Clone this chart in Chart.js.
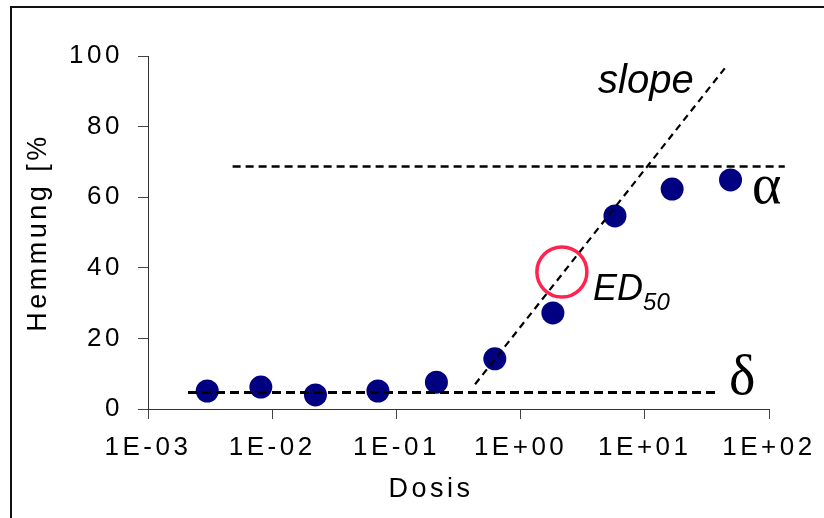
<!DOCTYPE html>
<html>
<head>
<meta charset="utf-8">
<script src="https://cdn.jsdelivr.net/npm/chart.js@4/dist/chart.umd.min.js"></script>
<style>
  html, body { margin: 0; padding: 0; background: #fff; }
  #wrap { width: 824px; height: 518px; }
</style>
</head>
<body>
<div id="wrap"><canvas id="doseChart" width="824" height="518"></canvas></div>
<script>
// DATA
const doseValues = [0.003, 0.0081, 0.0223, 0.071, 0.21, 0.62, 1.82, 5.75, 16.6, 49];
const hemmungValues = [5.1, 6.2, 4.0, 5.1, 7.6, 14.2, 27.2, 54.7, 62.3, 64.9];

const deltaX = [0.0021, 40];
const deltaY = [4.7, 4.7];
const alphaX = [0.0048, 134];
const alphaY = [68.7, 68.7];
const slopeX = [0.43, 44];
const slopeY = [7, 96.5];
const ed50X = [2.15];
const ed50Y = [38.8];

const xTickValues = [1e-3, 1e-2, 1e-1, 1e0, 1e1, 1e2];
const xTickLabels = ["1E-03", "1E-02", "1E-01", "1E+00", "1E+01", "1E+02"];

// text labels anchored in data units
const noteText = ["slope", "ED", "\u03b1", "\u03b4"];
const noteX = [10.2, 3.83, 73, 47.6];
const noteY = [89.5, 30.9, 58.4, 4.2];

const toPoints = (xs, ys) => xs.map((x, i) => ({ x: x, y: ys[i] }));

const sans = "'Liberation Sans', Arial, sans-serif";

// frame + letter spacing
const framePlugin = {
  id: "frame",
  beforeDraw(chart) {
    chart.ctx.letterSpacing = "3.5px";
  },
  afterDraw(chart) {
    const ctx = chart.ctx;
    ctx.save();
    ctx.strokeStyle = "#111";
    ctx.lineWidth = 2;
    ctx.beginPath();
    ctx.moveTo(824, 7);
    ctx.lineTo(11, 7);
    ctx.lineTo(11, 518);
    ctx.stroke();
    ctx.restore();
  }
};

const notesPlugin = {
  id: "notes",
  afterDatasetsDraw(chart) {
    const ctx = chart.ctx;
    const xs = chart.scales.x, ys = chart.scales.y;
    ctx.save();
    ctx.letterSpacing = "0px";
    ctx.fillStyle = "#000";
    ctx.textBaseline = "alphabetic";

    // slope
    ctx.font = "italic 40px " + sans;
    ctx.textAlign = "center";
    ctx.fillText(noteText[0], xs.getPixelForValue(noteX[0]), ys.getPixelForValue(noteY[0]));

    // ED50
    ctx.textAlign = "left";
    ctx.font = "italic 36px " + sans;
    const ex = xs.getPixelForValue(noteX[1]);
    const ey = ys.getPixelForValue(noteY[1]);
    ctx.fillText(noteText[1], ex, ey);
    const w = ctx.measureText(noteText[1]).width;
    ctx.font = "italic 24px " + sans;
    ctx.fillText("50", ex + w, ey + 10);

    // alpha, delta
    ctx.font = "56px 'Liberation Serif', 'DejaVu Serif', serif";
    ctx.fillText(noteText[2], xs.getPixelForValue(noteX[2]), ys.getPixelForValue(noteY[2]));
    ctx.fillText(noteText[3], xs.getPixelForValue(noteX[3]), ys.getPixelForValue(noteY[3]));
    ctx.restore();
  }
};

const dashedLine = (data, width, dash) => ({
  data: data,
  showLine: true,
  borderColor: "#000",
  borderWidth: width,
  borderDash: dash,
  pointRadius: 0,
  fill: false,
  clip: false
});

const ctx = document.getElementById("doseChart");

new Chart(ctx, {
  type: "scatter",
  data: {
    datasets: [
      {
        data: toPoints(ed50X, ed50Y),
        pointStyle: "circle",
        pointRadius: 25,
        backgroundColor: "rgba(0,0,0,0)",
        borderColor: "#ff2450",
        borderWidth: 3.5,
        clip: false
      },
      dashedLine(toPoints(slopeX, slopeY), 2.2, [7, 5]),
      dashedLine(toPoints(deltaX, deltaY), 3, [9, 5]),
      dashedLine(toPoints(alphaX, alphaY), 2.5, [8, 5]),
      {
        data: toPoints(doseValues, hemmungValues),
        pointRadius: 11.5,
        backgroundColor: "#000080",
        borderWidth: 0,
        clip: false
      }
    ]
  },
  options: {
    responsive: false,
    animation: false,
    events: [],
    layout: { padding: { left: 0, top: 56, right: 55, bottom: 0 } },
    plugins: {
      legend: { display: false },
      tooltip: { enabled: false }
    },
    scales: {
      x: {
        type: "logarithmic",
        min: 1e-3,
        max: 1e2,
        afterBuildTicks: scale => {
          scale.ticks = xTickValues.map(v => ({ value: v }));
        },
        afterFit: scale => { scale.height = 109; },
        ticks: {
          autoSkip: false,
          maxRotation: 0,
          padding: 13,
          color: "#000",
          font: { family: sans, size: 26 },
          callback: (value) => {
            const i = xTickValues.findIndex(v => Math.abs(Math.log10(v) - Math.log10(value)) < 1e-6);
            return i >= 0 ? xTickLabels[i] : "";
          }
        },
        grid: { drawOnChartArea: false, tickLength: 10, color: "#444" },
        border: { color: "#333", width: 1 },
        title: {
          display: true,
          text: "Dosis     ",
          color: "#000",
          font: { family: sans, size: 27 },
          padding: { top: 0, bottom: 12 }
        }
      },
      y: {
        min: 0,
        max: 100,
        afterFit: scale => { scale.width = 148; },
        ticks: {
          stepSize: 20,
          padding: 15,
          color: "#000",
          font: { family: sans, size: 26 }
        },
        grid: { drawOnChartArea: false, tickLength: 10, color: "#444" },
        border: { color: "#333", width: 1 },
        title: {
          display: true,
          text: "Hemmung [%",
          color: "#000",
          font: { family: sans, size: 27 },
          padding: { top: 22, bottom: 0 }
        }
      }
    }
  },
  plugins: [framePlugin, notesPlugin]
});
</script>
</body>
</html>
